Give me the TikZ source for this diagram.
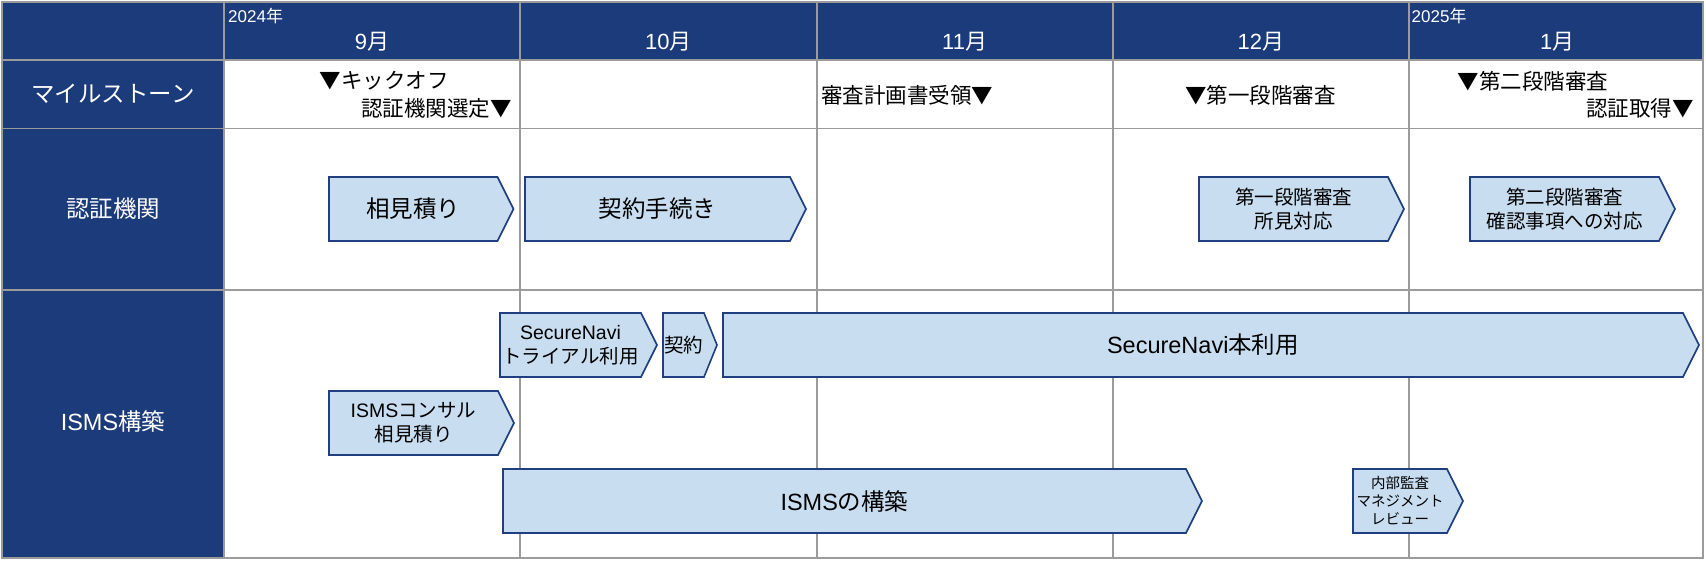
\documentclass[tikz,border=0pt]{standalone}
\usepackage{fontspec}
\setmainfont{Noto Sans CJK JP}
\newfontfamily\en{Liberation Sans}
\usepackage{tikz}
\definecolor{navy}{HTML}{1C3B7A}
\definecolor{barfill}{HTML}{C8DDF0}
\definecolor{barblue}{HTML}{1F3F7F}
\definecolor{gridgray}{HTML}{9B9B9B}
\tikzstyle{taskbar} = [draw=barblue, line width=1.6pt, fill=barfill, line join=miter]
\tikzstyle{bigtext} = [inner sep=0pt, align=center, font=\fontsize{23.5}{24}\selectfont]
\tikzstyle{bartext} = [inner sep=0pt, align=center, font=\fontsize{19.5}{24}\selectfont]
\tikzstyle{smalltext} = [inner sep=0pt, align=center, font=\fontsize{14.5}{18}\selectfont]
\tikzstyle{milestone} = [inner sep=0pt, font=\fontsize{21.5}{24}\selectfont]
\tikzstyle{rowlabel} = [inner sep=0pt, text=white, font=\fontsize{23.5}{24}\selectfont]
\tikzstyle{month} = [inner sep=0pt, text=white, font=\fontsize{22}{22}\selectfont]
\tikzstyle{year} = [inner sep=0pt, text=white, anchor=west, font=\fontsize{17}{17}\selectfont]
\tikzstyle{grid} = [draw=gridgray, line width=1.8pt]
% [tip] name style left right top text
\newcommand{\taskarrow}[7][16]{%
  \draw[taskbar] (#4,#6) -- (#5,#6) -- (#5+#1,#6+32) -- (#5,#6+64) -- (#4,#6+64) -- cycle;
  \node (#2) [#3] at ({(#4+#5)/2},#6+32) {#7};
}

\begin{document}
\begin{tikzpicture}[x=1pt, y=-1pt]
\useasboundingbox (0,0) rectangle (1706,561);
% background
\fill[navy] (2,2) rectangle (1703,60);
\fill[navy] (2,2) rectangle (224,558);
% header
\foreach \m [count=\i from 0] in {9,10,11,12,1}
  \node (m\i) [month] at (372+\i*296.3,42) {{\en\m}月};
\node (y2024) [year] at (228,16) {{\en 2024}年};
\node (y2025) [year] at (1411.5,16) {{\en 2025}年};
% row labels
\node (lms) [rowlabel] at (113,94) {マイルストーン};
\node (lcb) [rowlabel] at (113,209) {認証機関};
\node (lisms) [rowlabel] at (113,421) {{\en ISMS}構築};
% grid
\foreach \i in {1,...,4}
  \draw[grid] (224+\i*296.3,2) -- (224+\i*296.3,558);
\draw[grid] (224,2) -- (224,558);
\draw[grid] (2,60) -- (1703,60);
\draw[grid] (2,128.5) -- (1703,128.5);
\draw[grid] (2,290) -- (1703,290);
\draw[grid] (2,2) rectangle (1703,558);
% milestones
\node (kickoff) [milestone, anchor=west] at (319.5,81) {▼キックオフ};
\node (select) [milestone, anchor=east] at (512,108) {認証機関選定▼};
\node (plan) [milestone, anchor=west] at (821,95) {審査計画書受領▼};
\node (stage1) [milestone, anchor=west] at (1185,95) {▼第一段階審査};
\node (stage2) [milestone, anchor=west] at (1457.5,81) {▼第二段階審査};
\node (cert) [milestone, anchor=east] at (1694,108) {認証取得▼};
% 認証機関
\taskarrow{quote}{bigtext}{329}{497.5}{177}{相見積り}
\taskarrow{contract}{bigtext}{525}{790}{177}{契約手続き}
\taskarrow{fix1}{bartext}{1199}{1388}{177}{第一段階審査\\所見対応}
\taskarrow{fix2}{bartext}{1470}{1659}{177}{第二段階審査\\確認事項への対応}
% ISMS構築
\taskarrow{trial}{bartext}{500}{641}{313}{{\en SecureNavi}\\トライアル利用}
\taskarrow[13]{sncontract}{bartext}{663}{704}{313}{契約}
\taskarrow{snuse}{bigtext}{723}{1683}{313}{{\en SecureNavi}本利用}
\taskarrow{consul}{bartext}{329}{498}{391}{{\en ISMS}コンサル\\相見積り}
\taskarrow{build}{bigtext}{503}{1186}{469}{{\en ISMS}の構築}
\taskarrow{audit}{smalltext}{1353}{1447}{469}{内部監査\\マネジメント\\レビュー}
\end{tikzpicture}
\end{document}
